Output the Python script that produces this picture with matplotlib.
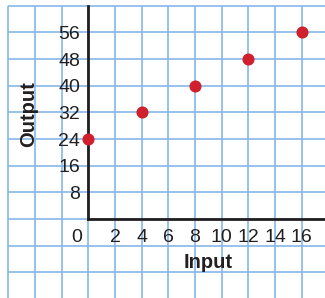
import matplotlib.pyplot as plt
import numpy as np

inputs = [0, 4, 8, 12, 16]
outputs = [24, 32, 40, 48, 56]
x_ticks = [2, 4, 6, 8, 10, 12, 14, 16]
y_ticks = [8, 16, 24, 32, 40, 48, 56]

plt.rcParams['font.family'] = ['Liberation Sans', 'DejaVu Sans']

fig = plt.figure(figsize=(3.25, 2.98), dpi=100)
ax = fig.add_axes([0, 0, 1, 1])
ax.set_xlim(-6.62, 17.75)
ax.set_ylim(-23.7, 65.7)

grid_color = '#86b8e8'
ax.vlines(np.arange(-6, 17, 2), -24, 64, color=grid_color, lw=1.2, zorder=1)
ax.hlines(np.arange(-16, 65, 8), -6, 18, color=grid_color, lw=1.2, zorder=1)

for side in ['top', 'right']:
    ax.spines[side].set_visible(False)
ax.spines['left'].set_position(('data', 0))
ax.spines['bottom'].set_position(('data', 0))
ax.spines['left'].set_bounds(0, 64)
ax.spines['bottom'].set_bounds(0, 17.75)
for side in ['left', 'bottom']:
    ax.spines[side].set_linewidth(2)
    ax.spines[side].set_color('#231f20')
    ax.spines[side].set_zorder(3)

ax.set_xticks(x_ticks)
ax.set_yticks(y_ticks)
ax.tick_params(length=0, labelsize=14, colors='#231f20')
ax.tick_params(axis='x', pad=7.5)
ax.tick_params(axis='y', pad=6)
ax.text(-0.45, -5.4, '0', ha='right', va='center', fontsize=14, color='#231f20')

ax.text(9, -13.2, 'Input', ha='center', va='center', fontsize=14.5,
        fontweight='bold', color='#231f20')
ax.text(-4.45, 31.5, 'Output', ha='center', va='center', rotation=90,
        fontsize=14.5, fontweight='bold', color='#231f20')

ax.plot(inputs, outputs, 'o', color='#d0202e', markersize=7.7, zorder=4, clip_on=False)

fig.savefig('out.png', dpi=100)
